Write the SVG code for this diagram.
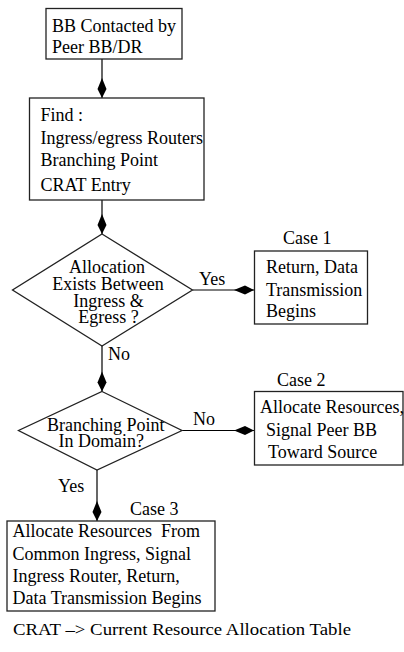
<svg xmlns="http://www.w3.org/2000/svg" width="404" height="652" viewBox="0 0 404 652">
<style>
  text { font-family: "Liberation Serif", "Times New Roman", serif; font-size: 18px; fill: #000; }
  .box { fill: #fff; stroke: #222; stroke-width: 1.3; }
  .conn { fill: none; stroke: #000; stroke-width: 1.2; marker-end: url(#dia); }
  .mid { text-anchor: middle; }
  .foot { font-size: 17px; }
</style>
<defs>
  <marker id="dia" viewBox="-21 -5 22 10" markerWidth="22" markerHeight="10" refX="0" refY="0" markerUnits="userSpaceOnUse" orient="auto">
    <path d="M0,0 L-9,-4.5 L-20,0 L-9,4.5 Z" fill="#000"/>
  </marker>
</defs>
<rect width="404" height="652" fill="#fff"/>

<g id="connectors">
  <line class="conn" x1="102" y1="59" x2="102" y2="98"/>
  <line class="conn" x1="102" y1="200" x2="102" y2="234"/>
  <line class="conn" x1="192.5" y1="290" x2="254" y2="290"/>
  <line class="conn" x1="102" y1="346" x2="102" y2="391.5"/>
  <line class="conn" x1="182" y1="430.5" x2="254" y2="430.5"/>
  <line class="conn" x1="97" y1="470" x2="97" y2="521"/>
  <text x="199" y="285">Yes</text>
  <text x="108" y="360">No</text>
  <text x="193" y="425">No</text>
  <text x="58" y="492">Yes</text>
</g>

<g id="start">
  <rect class="box" x="46" y="8.5" width="136" height="50.5"/>
  <text x="52" y="32">BB Contacted by</text>
  <text x="52" y="53">Peer BB/DR</text>
</g>

<g id="find">
  <rect class="box" x="29.5" y="98" width="174.5" height="102"/>
  <text x="40.5" y="121">Find :</text>
  <text x="40.5" y="144">Ingress/egress Routers</text>
  <text x="40.5" y="166">Branching Point</text>
  <text x="40.5" y="191">CRAT Entry</text>
</g>

<g id="decision1">
  <polygon class="box" points="102,234 192.5,290 102,346 12.5,290"/>
  <text class="mid" x="107" y="273">Allocation</text>
  <text class="mid" x="108" y="290">Exists Between</text>
  <text class="mid" x="108.5" y="307">Ingress &amp;</text>
  <text class="mid" x="108.5" y="323">Egress ?</text>
</g>

<g id="case1">
  <text x="283" y="244">Case 1</text>
  <rect class="box" x="254.5" y="251" width="113" height="73"/>
  <text x="266" y="273">Return, Data</text>
  <text x="266" y="296">Transmission</text>
  <text x="266" y="317">Begins</text>
</g>

<g id="decision2">
  <polygon class="box" points="102,391.5 182,430.5 97,470 18.5,430.5"/>
  <text x="47" y="431">Branching Point</text>
  <text x="58.5" y="447">In Domain?</text>
</g>

<g id="case2">
  <text x="277" y="386">Case 2</text>
  <rect class="box" x="254.5" y="391.5" width="148.5" height="73.5"/>
  <text x="260" y="413">Allocate Resources,</text>
  <text x="266" y="436">Signal Peer BB</text>
  <text x="268" y="458">Toward Source</text>
</g>

<g id="case3">
  <text x="130" y="515">Case 3</text>
  <rect class="box" x="7" y="521" width="208" height="90"/>
  <text x="12.5" y="537" xml:space="preserve">Allocate Resources  From</text>
  <text x="12.5" y="560">Common Ingress, Signal</text>
  <text x="12.5" y="582">Ingress Router, Return,</text>
  <text x="12.5" y="604">Data Transmission Begins</text>
</g>

<g id="footer">
  <text class="foot" x="13" y="635" textLength="338" lengthAdjust="spacingAndGlyphs">CRAT –&gt; Current Resource Allocation Table</text>
</g>
</svg>
